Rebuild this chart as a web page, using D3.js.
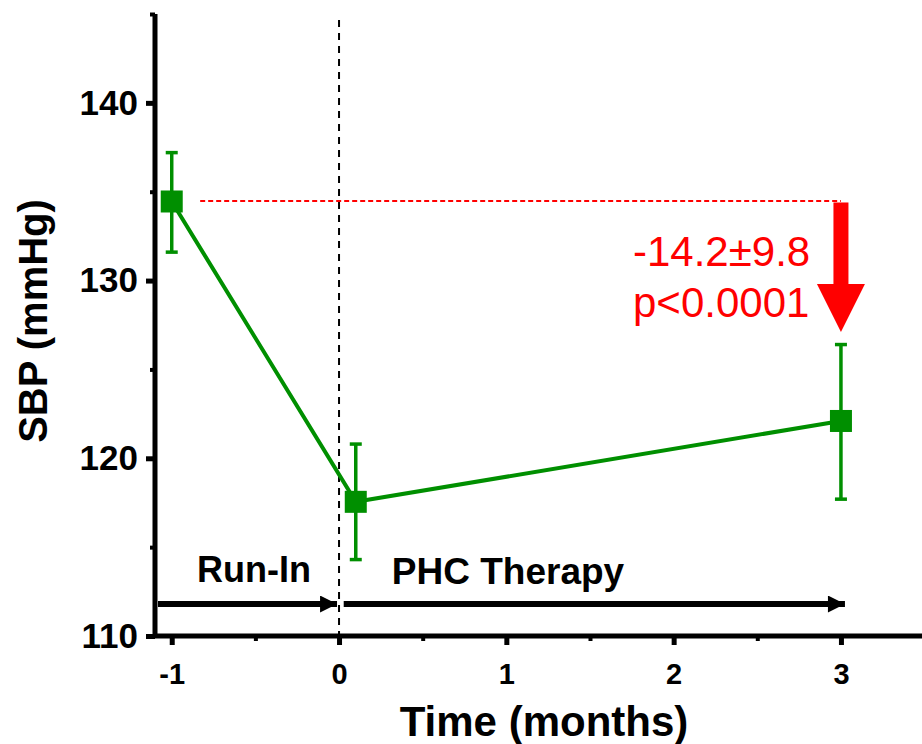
<!DOCTYPE html>
<html>
<head>
<meta charset="utf-8">
<script src="https://cdn.jsdelivr.net/npm/d3@7"></script>
<style>
  body { margin: 0; background: #fff; }
  svg { font-family: "Liberation Sans", Arial, sans-serif; }
</style>
</head>
<body>
<svg id="chart" width="922" height="744"></svg>
<script>
////////////////////////////////////////////////////////////
//////////////////////// Data //////////////////////////////
////////////////////////////////////////////////////////////

var times = [-1, 0.1, 3],            //months
    sbpMean = [134.45, 117.55, 122.1],
    sbpUpper = [137.2, 120.8, 126.4],
    sbpLower = [131.6, 114.3, 117.7];

var xTicks = [-1, 0, 1, 2, 3],
    xMinor = [-0.5, 0.5, 1.5, 2.5],
    yTicks = [110, 120, 130, 140],
    yMinor = [115, 125, 135, 145];

//Study phases drawn as arrows under the curve
var phaseLabels = ["Run-In", "PHC Therapy"],
    phaseStart = [-1.1, 0.01],
    phaseEnd = [0, 3],
    phaseLevel = 111.8;

//Change annotation
var changeText = ["-14.2±9.8", "p<0.0001"],
    baselineFrom = -0.83,
    arrowTipValue = 127.1;

////////////////////////////////////////////////////////////
//////////////////////// Scales ////////////////////////////
////////////////////////////////////////////////////////////

var green = "#008f00", red = "#ff0000";

var svg = d3.select("#chart");

var x = d3.scaleLinear().domain([-1.1, 3.5]).range([155, 924.6]),
    y = d3.scaleLinear().domain([110, 145]).range([636, 14]);

////////////////////////////////////////////////////////////
//////////////////////// Axes //////////////////////////////
////////////////////////////////////////////////////////////

//minor ticks first, then the major axis on top
svg.append("g")
    .attr("transform", "translate(0,636)")
    .call(d3.axisBottom(x).tickValues(xMinor).tickSize(5).tickSizeOuter(0).tickFormat(""))
    .call(function(g) { g.select(".domain").remove(); })
    .selectAll("line").attr("stroke-width", 4);

svg.append("g")
    .attr("transform", "translate(155,0)")
    .call(d3.axisLeft(y).tickValues(yMinor).tickSize(5).tickSizeOuter(0).tickFormat(""))
    .call(function(g) { g.select(".domain").remove(); })
    .selectAll("line").attr("stroke-width", 4);

var xAxis = svg.append("g")
    .attr("transform", "translate(0,636)")
    .call(d3.axisBottom(x).tickValues(xTicks).tickSize(9).tickSizeOuter(0).tickPadding(18)
        .tickFormat(function(d) { return String(d); }));
xAxis.select(".domain").attr("stroke-width", 5).attr("d", "M153,0H922");
xAxis.selectAll("line").attr("stroke-width", 5);
xAxis.selectAll("text").style("font-size", "29px").style("font-weight", "bold").attr("fill", "#000");

var yAxis = svg.append("g")
    .attr("transform", "translate(155,0)")
    .call(d3.axisLeft(y).tickValues(yTicks).tickSize(9).tickSizeOuter(0).tickPadding(8));
yAxis.select(".domain").attr("stroke-width", 5).attr("d", "M0,14V638");
yAxis.selectAll("line").attr("stroke-width", 5);
yAxis.selectAll("text").style("font-size", "35px").style("font-weight", "bold").attr("fill", "#000");

//Axis titles
svg.append("text")
    .attr("x", 544).attr("y", 736)
    .attr("text-anchor", "middle")
    .style("font-size", "42px").style("font-weight", "bold")
    .text("Time (months)");

svg.append("text")
    .attr("transform", "translate(47,321) rotate(-90)")
    .attr("text-anchor", "middle")
    .style("font-size", "40px").style("font-weight", "bold")
    .text("SBP (mmHg)");

////////////////////////////////////////////////////////////
///////////////////// Reference lines //////////////////////
////////////////////////////////////////////////////////////

//start of therapy
svg.append("line")
    .attr("x1", x(0)).attr("x2", x(0))
    .attr("y1", 20).attr("y2", 636)
    .attr("stroke", "#000").attr("stroke-width", 2)
    .attr("stroke-dasharray", "7,6");

//baseline level
var baseY = Math.round(y(sbpMean[0]));
svg.append("line")
    .attr("x1", x(baselineFrom)).attr("x2", x(times[2]))
    .attr("y1", baseY).attr("y2", baseY)
    .attr("stroke", red).attr("stroke-width", 2)
    .attr("stroke-dasharray", "5,3");

////////////////////////////////////////////////////////////
///////////////////// Phase arrows /////////////////////////
////////////////////////////////////////////////////////////

var defs = svg.append("defs");
defs.append("marker")
    .attr("id", "blackHead")
    .attr("viewBox", "0 0 10 10")
    .attr("refX", 10).attr("refY", 5)
    .attr("markerUnits", "userSpaceOnUse")
    .attr("markerWidth", 19).attr("markerHeight", 17)
    .attr("orient", "auto")
  .append("path")
    .attr("d", "M0,0L10,5L0,10Z")
    .attr("fill", "#000");

phaseLabels.forEach(function(label, i) {
    svg.append("line")
        .attr("x1", x(phaseStart[i]) + 3).attr("x2", x(phaseEnd[i]) - (i === 0 ? 2 : -4))
        .attr("y1", y(phaseLevel)).attr("y2", y(phaseLevel))
        .attr("stroke", "#000").attr("stroke-width", 6)
        .attr("marker-end", "url(#blackHead)");
});

svg.append("text")
    .attr("x", 254).attr("y", 582)
    .attr("text-anchor", "middle")
    .style("font-size", "36px").style("font-weight", "bold")
    .text(phaseLabels[0]);

svg.append("text")
    .attr("x", 508).attr("y", 584)
    .attr("text-anchor", "middle")
    .style("font-size", "37px").style("font-weight", "bold")
    .text(phaseLabels[1]);

////////////////////////////////////////////////////////////
///////////////////// Data series //////////////////////////
////////////////////////////////////////////////////////////

var line = d3.line()
    .x(function(d, i) { return x(times[i]); })
    .y(function(d) { return y(d); });

svg.append("path")
    .datum(sbpMean)
    .attr("d", line)
    .attr("fill", "none")
    .attr("stroke", green)
    .attr("stroke-width", 4);

var bars = svg.selectAll(".errBar")
    .data(times)
    .enter().append("g")
    .attr("class", "errBar")
    .attr("stroke", green)
    .attr("stroke-width", 3.5);

bars.append("line")
    .attr("x1", function(d) { return x(d); })
    .attr("x2", function(d) { return x(d); })
    .attr("y1", function(d, i) { return y(sbpUpper[i]); })
    .attr("y2", function(d, i) { return y(sbpLower[i]); });

[sbpUpper, sbpLower].forEach(function(arr) {
    bars.append("line")
        .attr("x1", function(d) { return x(d) - 6; })
        .attr("x2", function(d) { return x(d) + 6; })
        .attr("y1", function(d, i) { return y(arr[i]); })
        .attr("y2", function(d, i) { return y(arr[i]); });
});

svg.selectAll(".marker")
    .data(times)
    .enter().append("rect")
    .attr("class", "marker")
    .attr("x", function(d) { return x(d) - 11; })
    .attr("y", function(d, i) { return y(sbpMean[i]) - 11; })
    .attr("width", 22).attr("height", 22)
    .attr("fill", green);

////////////////////////////////////////////////////////////
///////////////////// Change annotation ////////////////////
////////////////////////////////////////////////////////////

var ax = x(times[2]),
    aTop = y(sbpMean[0]) + 1,
    aTip = y(arrowTipValue),
    headLen = 48;

svg.append("rect")
    .attr("x", ax - 7.5).attr("y", aTop)
    .attr("width", 15).attr("height", aTip - headLen - aTop + 2)
    .attr("fill", red);

svg.append("path")
    .attr("d", "M" + (ax - 24) + "," + (aTip - headLen) +
               "L" + (ax + 24) + "," + (aTip - headLen) +
               "L" + ax + "," + aTip + "Z")
    .attr("fill", red);

svg.selectAll(".changeText")
    .data(changeText)
    .enter().append("text")
    .attr("class", "changeText")
    .attr("x", 633)
    .attr("y", function(d, i) { return 266 + i * 51; })
    .attr("fill", red)
    .style("font-size", "42px")
    .text(function(d) { return d; });
</script>
</body>
</html>
